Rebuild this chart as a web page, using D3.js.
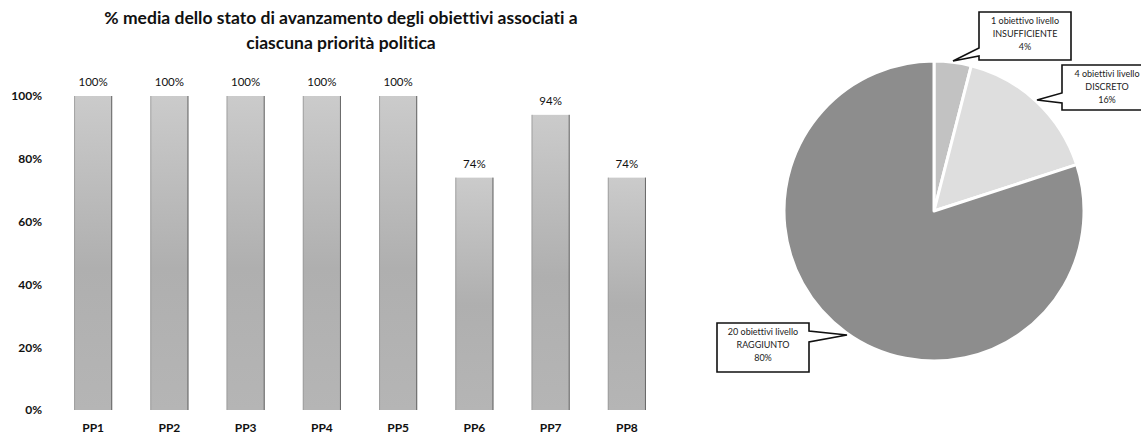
<!DOCTYPE html>
<html><head><meta charset="utf-8">
<script src="https://cdn.jsdelivr.net/npm/d3@7"></script>
<style>
html,body{margin:0;padding:0;background:#fff;}
svg{display:block;font-family:Lato,"Open Sans",sans-serif;font-variant-ligatures:none;}
</style></head>
<body>
<svg id="chart" width="1141" height="436"></svg>
<script>
// ---- data ----
const categories = ["PP1","PP2","PP3","PP4","PP5","PP6","PP7","PP8"];
const values = [100,100,100,100,100,74,94,74];
const yTicks = [0,20,40,60,80,100];
const titleLines = ["% media dello stato di avanzamento degli obiettivi associati a","ciascuna priorità politica"];

const pieLabels = ["INSUFFICIENTE","DISCRETO","RAGGIUNTO"];
const pieCounts = [1,4,20];
const pieCountText = ["1 obiettivo livello","4 obiettivi livello","20 obiettivi livello"];
const piePercents = [4,16,80];

const svg = d3.select("#chart");
const defs = svg.append("defs");
const g1 = defs.append("linearGradient").attr("id","barGrad").attr("x1",0).attr("y1",0).attr("x2",0).attr("y2",1);
g1.append("stop").attr("offset","0%").attr("stop-color","#cbcbcb");
g1.append("stop").attr("offset","55%").attr("stop-color","#afafaf");
g1.append("stop").attr("offset","100%").attr("stop-color","#b5b5b5");

// ---- title ----
svg.append("g").selectAll("text").data(titleLines).join("text")
  .attr("x",341).attr("y",(d,i)=>24+i*25)
  .attr("text-anchor","middle")
  .attr("font-size",17.5).attr("font-weight","bold").attr("fill","#111")
  .text(d=>d);

// ---- bar chart ----
const x = d3.scaleBand().domain(categories).range([55,665]).paddingInner(0.5).paddingOuter(0.25);
const y = d3.scaleLinear().domain([0,100]).range([410,96]);

const yAxis = d3.axisLeft(y).tickValues(yTicks).tickFormat(d=>d+"%").tickSize(0).tickPadding(0);
const ya = svg.append("g").attr("transform","translate(42,0)").call(yAxis);
ya.select(".domain").remove();
ya.selectAll("text").attr("font-size",12).attr("font-weight","bold").attr("font-family","Lato,sans-serif").attr("fill","#111");

const xAxis = d3.axisBottom(x).tickSize(0).tickPadding(0);
const xa = svg.append("g").attr("transform","translate(0,423)").call(xAxis);
xa.select(".domain").remove();
xa.selectAll("text").attr("font-size",12).attr("font-weight","bold").attr("font-family","Lato,sans-serif").attr("fill","#111");

const bars = svg.append("g").selectAll("g").data(values).join("g");
bars.append("rect")
  .attr("x",(d,i)=>x(categories[i]))
  .attr("y",d=>y(d))
  .attr("width",x.bandwidth())
  .attr("height",d=>y(0)-y(d))
  .attr("fill","url(#barGrad)");
bars.append("line")
  .attr("x1",(d,i)=>x(categories[i])+x.bandwidth()-0.5)
  .attr("x2",(d,i)=>x(categories[i])+x.bandwidth()-0.5)
  .attr("y1",d=>y(d)).attr("y2",y(0))
  .attr("stroke","#666").attr("stroke-width",1);
bars.append("line")
  .attr("x1",(d,i)=>x(categories[i])+0.5)
  .attr("x2",(d,i)=>x(categories[i])+0.5)
  .attr("y1",d=>y(d)).attr("y2",y(0))
  .attr("stroke","#999").attr("stroke-width",0.8);
bars.append("text")
  .attr("x",(d,i)=>x(categories[i])+x.bandwidth()/2)
  .attr("y",d=>y(d)-10)
  .attr("text-anchor","middle")
  .attr("font-size",11.5).attr("fill","#111")
  .text(d=>d+"%");

// ---- pie ----
const cx = 934, cy = 211, R = 150;
const pie = d3.pie().sort(null).value(d=>d)(pieCounts);
const arc = d3.arc().innerRadius(0).outerRadius(R);
const pieColors = ["#c2c2c2","#dedede","#8d8d8d"];
const pg = svg.append("g").attr("transform",`translate(${cx},${cy})`);
pg.selectAll("path").data(pie).join("path")
  .attr("d",arc)
  .attr("fill",(d,i)=>pieColors[i])
  .attr("stroke","#fff").attr("stroke-width",3).attr("stroke-linejoin","round");

// ---- callouts ----
const callouts = [
  {box:[979,12,92,48], tip:[953,61], side:"left", a:48, b:56},
  {box:[1062,65,90,45], tip:[1037,100], side:"left", a:93, b:103},
  {box:[717,323,92,49], tip:[847,335], side:"right", a:331, b:342}
];
const cg = svg.append("g");
callouts.forEach((c,i)=>{
  const [bx,by,bw,bh] = c.box;
  let p;
  if(c.side==="left"){
    p = `M${bx},${by} L${bx+bw},${by} L${bx+bw},${by+bh} L${bx},${by+bh} L${bx},${c.b} L${c.tip[0]},${c.tip[1]} L${bx},${c.a} Z`;
  } else {
    p = `M${bx},${by} L${bx+bw},${by} L${bx+bw},${c.a} L${c.tip[0]},${c.tip[1]} L${bx+bw},${c.b} L${bx+bw},${by+bh} L${bx},${by+bh} Z`;
  }
  cg.append("path").attr("d",p).attr("fill","#fff").attr("stroke","#111").attr("stroke-width",1.6).attr("stroke-linejoin","miter");
  const lines = [pieCountText[i], pieLabels[i], piePercents[i]+"%"];
  cg.append("g").selectAll("text").data(lines).join("text")
    .attr("x",bx+bw/2).attr("y",(d,k)=>by+12+k*13)
    .attr("text-anchor","middle").attr("font-size",9).attr("fill","#222")
    .text(d=>d);
});
</script>
</body></html>
